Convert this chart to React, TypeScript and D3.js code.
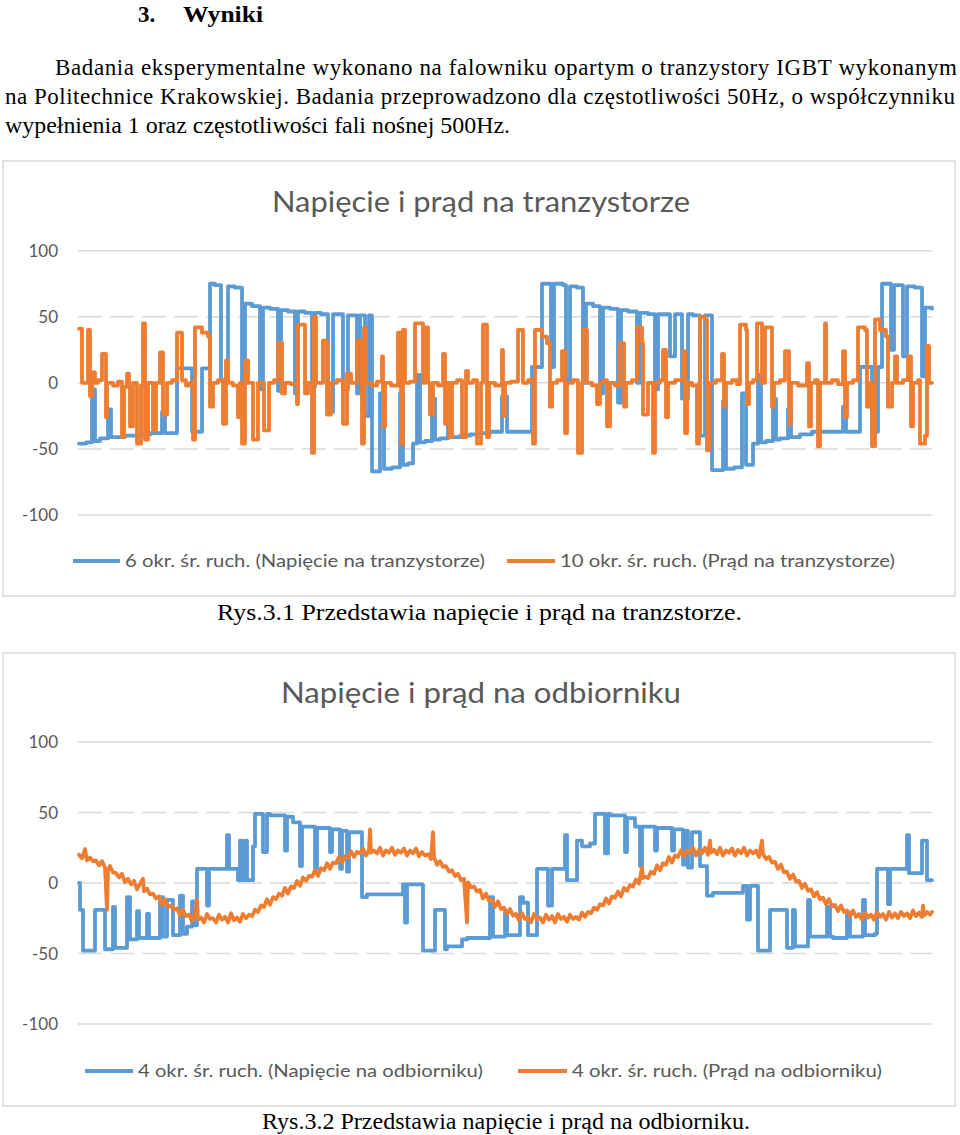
import React from 'react';
import * as d3 from 'd3';

// ---------- data ----------
const yTicks: number[] = [100, 50, 0, -50, -100];

const headingNumber = '3.';
const headingText = 'Wyniki';
const paragraphLines: string[] = [
  'Badania eksperymentalne wykonano na falowniku opartym o tranzystory IGBT wykonanym',
  'na Politechnice Krakowskiej. Badania przeprowadzono dla częstotliwości 50Hz, o współczynniku',
  'wypełnienia 1 oraz częstotliwości fali nośnej 500Hz.',
];
const caption1 = 'Rys.3.1 Przedstawia napięcie i prąd na tranzstorze.';
const caption2 = 'Rys.3.2 Przedstawia napięcie i prąd na odbiorniku.';

const chart1Title = 'Napięcie i prąd na tranzystorze';
const chart2Title = 'Napięcie i prąd na odbiorniku';
const chart1Legend: string[] = [
  '6 okr. śr. ruch. (Napięcie na tranzystorze)',
  '10 okr. śr. ruch. (Prąd na tranzystorze)',
];
const chart2Legend: string[] = [
  '4 okr. śr. ruch. (Napięcie na odbiorniku)',
  '4 okr. śr. ruch. (Prąd na odbiorniku)',
];

const sampleCount = 853;

// [sample, value] — value held until next sample (step)
const trVoltage: [number, number][] = [
  [0, -46], [7, -45], [13, -5], [16, -44], [21, -42], [29, -20], [32, -41], [46, -40], [61, -39], [71, -38],
  [83, -22], [86, -38], [98, 11], [113, -37], [123, 11], [131, 75], [136, 74], [142, 2], [149, 73], [156, 72],
  [163, 0], [166, 60], [173, 58], [181, -5], [184, 57], [191, 56], [199, -6], [202, 55], [209, 54], [216, -8],
  [219, 54], [226, 53], [233, -3], [236, 53], [242, 52], [249, -22], [254, 52], [264, -5], [269, 51], [278, -8],
  [281, 51], [286, -25], [290, 51], [293, -67], [301, -8], [305, -65], [313, -64], [321, -8], [324, -62], [329, -61],
  [334, -46], [338, 6], [341, -45], [346, -44], [353, -12], [356, -43], [361, -42], [369, -20], [372, -41], [381, -40],
  [391, -39], [401, -38], [411, -37], [423, -10], [428, -37], [453, 12], [463, 75], [472, 12], [475, 75], [484, 74],
  [487, 2], [491, 73], [498, 72], [504, 0], [507, 60], [514, 58], [521, -8], [524, 57], [531, 56], [539, -15],
  [542, 55], [549, 54], [558, 0], [561, 53], [569, 52], [576, -5], [579, 52], [591, 20], [596, 52], [603, -12],
  [609, 52], [614, 51], [621, -40], [626, 51], [633, -66], [644, -14], [647, -65], [655, -64], [663, -8], [667, -62],
  [674, -46], [679, 6], [682, -45], [687, -44], [694, -12], [697, -43], [701, -42], [709, -20], [712, -41], [721, -39],
  [733, -37], [764, -18], [767, -37], [781, 12], [793, -37], [799, 12], [803, 75], [812, 25], [815, 74], [824, 20],
  [828, 73], [836, 72], [843, 5], [846, 57], [853, 56],
];

const trCurrent: [number, number][] = [
  [0, 41], [3, 0], [9, 40], [11, -10], [13, 8], [16, 0], [19, 2], [23, 22], [27, -26], [28, 0],
  [34, -2], [39, 1], [43, -41], [45, -3], [48, 7], [50, -3], [51, -33], [54, 0], [58, -46], [62, -2],
  [64, 45], [66, -43], [69, 0], [74, -36], [77, 0], [81, 23], [84, -24], [88, 0], [93, 2], [98, 38],
  [103, 2], [107, -2], [111, 0], [114, -43], [116, 42], [123, 38], [129, 35], [131, -18], [134, 0], [139, 2],
  [144, -31], [147, 17], [149, 0], [154, -2], [159, -26], [161, 0], [163, -46], [166, 17], [169, 0], [174, -43],
  [179, 0], [185, -36], [190, 0], [195, 2], [199, 30], [203, -8], [206, 0], [212, -1], [218, -16], [219, 44],
  [226, -8], [229, 0], [233, -53], [235, 50], [237, 0], [244, 32], [248, -24], [252, 0], [258, 2], [264, -31],
  [268, 7], [272, 0], [278, 32], [283, -46], [285, 42], [287, 0], [293, -2], [298, 1], [303, 20], [304, -33],
  [306, 0], [312, -2], [319, 38], [322, -46], [324, 40], [326, 0], [331, 1], [336, 45], [344, 0], [346, 42],
  [349, 0], [351, -24], [354, 0], [359, -2], [364, 22], [366, -31], [368, 0], [371, -41], [373, 0], [378, 2],
  [383, -41], [387, 9], [389, 0], [394, 2], [398, -46], [402, 0], [404, 44], [408, -41], [410, 0], [416, -2],
  [423, 25], [424, -25], [426, 0], [432, 1], [439, 40], [444, 0], [449, 2], [454, -46], [456, 40], [463, 35],
  [468, 30], [471, -18], [473, 0], [478, 2], [483, 24], [486, -38], [488, 0], [494, 2], [499, -53], [503, 0],
  [504, 40], [508, 0], [513, -2], [518, -16], [521, 0], [525, 2], [528, -33], [531, 0], [536, -2], [541, 30],
  [545, -18], [547, 0], [553, 2], [558, 42], [563, 30], [564, -24], [569, 0], [574, -53], [576, 0], [581, 2],
  [584, 25], [587, -26], [589, 0], [596, 2], [604, 24], [606, -38], [608, 0], [613, -2], [618, -46], [620, 0],
  [621, 50], [626, 48], [628, -51], [630, 0], [637, 2], [643, 22], [645, -18], [647, 0], [653, 2], [658, -1],
  [661, 44], [667, 40], [668, -16], [670, 0], [674, 2], [678, 45], [683, 0], [686, 42], [693, -18], [695, 0],
  [701, 2], [706, 24], [710, -31], [712, 0], [719, -2], [728, 15], [730, -33], [732, 0], [736, 2], [739, -48],
  [741, 0], [746, 45], [747, 0], [753, 2], [759, -1], [764, 24], [766, -26], [768, 0], [774, 2], [779, 42],
  [786, 40], [788, -18], [790, 0], [793, -48], [796, 48], [801, 40], [807, 35], [809, -18], [813, 0], [816, 20],
  [818, 0], [824, 2], [829, 20], [832, -33], [834, 0], [839, 2], [841, -46], [846, -40], [848, 28], [850, 0],
  [853, 0],
];

const loadVoltage: [number, number][] = [
  [0, 0], [1, -19], [4, -48], [16, -19], [26, -47], [34, -17], [36, -46], [48, -10], [51, -40], [58, -20],
  [60, -39], [68, -22], [70, -39], [81, -10], [84, -38], [88, -12], [94, -37], [101, -9], [104, -36], [108, -31],
  [113, -13], [116, -30], [118, 10], [128, -16], [130, 10], [148, 34], [150, 10], [159, 2], [161, 30], [163, 2],
  [166, 30], [168, 2], [174, 26], [176, 49], [184, 22], [188, 49], [191, 48], [206, 23], [208, 47], [214, 43],
  [221, 12], [223, 40], [236, 10], [238, 39], [251, 22], [253, 38], [261, 10], [263, 37], [268, 8], [270, 36],
  [283, -10], [288, -8], [324, -1], [326, -28], [328, -1], [344, -48], [356, -19], [366, -47], [368, -45], [383, -40],
  [388, -39], [411, -10], [414, -38], [426, -20], [428, -37], [441, -10], [444, -14], [449, -37], [458, 10], [469, -16],
  [473, 10], [486, 34], [488, 2], [498, 30], [503, 26], [511, 28], [516, 49], [526, 21], [529, 49], [531, 48],
  [546, 22], [548, 46], [556, 40], [561, 12], [563, 40], [576, 23], [578, 39], [593, 23], [595, 38], [604, 13],
  [606, 37], [609, 11], [613, 36], [621, 12], [628, -9], [634, -7], [664, -2], [668, -26], [671, -2], [679, -48],
  [691, -19], [708, -46], [714, -19], [716, -45], [729, -12], [731, -38], [748, -17], [751, -38], [754, -39], [768, -21],
  [771, -38], [784, -12], [786, -37], [796, -36], [798, 10], [809, -15], [811, 10], [828, 34], [830, 7], [843, 30],
  [848, 2], [853, 2],
];

const loadCurrent: [number, number][] = [
  [0, 20], [3, 17.5], [6, 24], [8, 16], [11, 18], [14, 15.5], [17, 16], [20, 12.5], [23, 15.5], [26, 11],
  [28, -19], [29, 9], [31, 12], [34, 7.5], [37, 7], [40, 4], [43, 6.5], [46, 0.5], [49, 3], [52, -1],
  [55, 1.5], [58, -4.5], [61, -0.5], [64, 3], [65, -6], [68, -4], [71, -8], [74, -7.5], [77, -11], [80, -9.5],
  [83, -15.5], [86, -11.5], [89, -17], [92, -16], [95, -19], [98, -18], [101, -23], [104, -19], [107, -23.5], [110, -22.5],
  [113, -27], [116, -21.5], [118, -12], [119, -26], [122, -24.5], [125, -28], [128, -22], [131, -25.5], [134, -25], [137, -28],
  [140, -22.5], [143, -26], [146, -24], [149, -28], [152, -21.5], [155, -26.5], [158, -24.5], [161, -27.5], [164, -22], [167, -25],
  [170, -22.5], [173, -23.5], [176, -19], [179, -20.5], [182, -16], [185, -17], [188, -11.5], [191, -15.5], [194, -10], [197, -11.5],
  [200, -7.5], [203, -9], [206, -3.5], [209, -7.5], [212, -2.5], [215, -3.5], [218, 1.5], [221, -2], [224, 4], [227, 1.5],
  [230, 5], [233, 4.5], [236, 9], [239, 5], [242, 10.5], [245, 9], [248, 14], [251, 10], [254, 14.5], [257, 14],
  [260, 18.5], [263, 14.5], [266, 19], [269, 18], [272, 22.5], [275, 18.5], [278, 22], [281, 21], [284, 24.5], [287, 19.5],
  [290, 23], [291, 38], [292, 21.5], [295, 23], [298, 21], [301, 25], [304, 19.5], [307, 23], [310, 21.5], [313, 25],
  [316, 20], [319, 23], [322, 21.5], [325, 24.5], [328, 19.5], [331, 23], [334, 21], [337, 24.5], [340, 19], [343, 22],
  [346, 19.5], [349, 20.5], [352, 17], [354, 36], [355, 18.5], [358, 13], [361, 15.5], [364, 11.5], [367, 12], [370, 8],
  [373, 9], [376, 5], [379, 6.5], [382, 2], [385, 3], [388, -28], [389, 0.5], [392, -3], [395, -2.5], [398, -6],
  [401, -5], [404, -11], [407, -7.5], [410, -12.5], [413, -12], [416, -17], [419, -13], [422, -18.5], [425, -17.5], [428, -22],
  [431, -18.5], [434, -23], [437, -22], [440, -26.5], [443, -21.5], [446, -25.5], [449, -24.5], [452, -28], [455, -22], [458, -25.5],
  [461, -24.5], [464, -28], [467, -22.5], [470, -26], [473, -23.5], [476, -28], [479, -22], [482, -25.5], [485, -24], [488, -27.5],
  [491, -22.5], [494, -25.5], [497, -24], [500, -26], [503, -21], [506, -24], [509, -20.5], [512, -21.5], [515, -17.5], [518, -19],
  [521, -15], [524, -16], [527, -11], [530, -14.5], [533, -9.5], [536, -10.5], [539, -6], [542, -9.5], [545, -3.5], [548, -5.5],
  [551, -1.5], [554, -2.5], [557, 2.5], [560, -0.5], [563, 11], [564, 3.5], [566, 4.5], [569, 3.5], [572, 8], [575, 6.5],
  [578, 12.5], [581, 9], [584, 14], [587, 13], [590, 18.5], [593, 14.5], [596, 19.5], [599, 18.5], [602, 23], [605, 19],
  [608, 23], [611, 21.5], [614, 25], [617, 19.5], [620, 23.5], [623, 21], [626, 25], [629, 20], [631, 30], [632, 21.5],
  [635, 23.5], [638, 20.5], [641, 25], [644, 19.5], [647, 23], [650, 21.5], [653, 24.5], [656, 19.5], [659, 23.5], [662, 21],
  [665, 25], [668, 19.5], [671, 23], [674, 21], [677, 23], [680, 18.5], [683, 30], [684, 20.5], [687, 17], [690, 18.5],
  [693, 14.5], [696, 15], [699, 10], [702, 13], [705, 7.5], [708, 8], [711, 3], [714, 6], [717, 1], [720, 1.5],
  [723, -3.5], [726, -0.5], [729, -5.5], [732, -4.5], [735, -9.5], [738, -6.5], [741, -11.5], [744, -10.5], [747, -15], [750, -11.5],
  [753, -16.5], [756, -15.5], [759, -20], [762, -16], [765, -20.5], [768, -19.5], [771, -23.5], [774, -19.5], [777, -24], [780, -22],
  [783, -26], [786, -21], [789, -24.5], [792, -22.5], [795, -26], [798, -20.5], [801, -24], [804, -22], [807, -26], [810, -20.5],
  [813, -24.5], [816, -21.5], [819, -25], [822, -20.5], [825, -23.5], [828, -21.5], [831, -25], [834, -19.5], [837, -23.5], [840, -21],
  [843, -24], [844, -16], [845, -23], [848, -20.5], [851, -22.5], [853, -20.5],
];

// ---------- styles ----------
const BLUE = '#5B9BD5';
const ORANGE = '#ED7D31';
const GRID = '#d9d9d9';
const TEXT_GREY = '#595959';
const SANS = 'Lato, "Open Sans", sans-serif';
const SERIF = '"Liberation Serif", "Times New Roman", serif';

type Series = { data: [number, number][]; color: string; step: boolean };
type LegendItem = { label: string; color: string; x1: number; x2: number; tx: number; tw: number };

interface ChartProps {
  box: { x: number; y: number; w: number; h: number };
  title: string;
  titleY: number;
  titleWidth: number;
  yRange: [number, number];
  series: Series[];
  legend: LegendItem[];
  legendY: number;
}

const Chart: React.FC<ChartProps> = ({ box, title, titleY, titleWidth, yRange, series, legend, legendY }) => {
  const x = d3.scaleLinear().domain([0, sampleCount]).range([79, 932]);
  const y = d3.scaleLinear().domain([-100, 100]).range(yRange);
  const gridX0 = 78;
  const gridX1 = 932;
  return (
    <g>
      <rect x={box.x} y={box.y} width={box.w} height={box.h} fill="#fff" stroke={GRID} strokeWidth={1.5} />
      <text x={481} y={titleY} textAnchor="middle" fontFamily={SANS} fontSize={29} fill={TEXT_GREY}
        textLength={titleWidth} lengthAdjust="spacingAndGlyphs">{title}</text>
      {yTicks.map((t) => (
        <g key={t}>
          <line x1={gridX0} x2={gridX1} y1={y(t)} y2={y(t)} stroke={GRID} strokeWidth={1.5}
            strokeDasharray={Math.abs(t) === 100 ? undefined : '24 8'} />
          <text x={58} y={y(t) + 6} textAnchor="end" fontFamily={SANS} fontSize={17} fill={TEXT_GREY}>{t}</text>
        </g>
      ))}
      {series.map((s, i) => {
        const line = d3
          .line<[number, number]>()
          .x((d) => x(d[0]))
          .y((d) => y(d[1]))
          .curve(s.step ? d3.curveStepAfter : d3.curveLinear);
        return (
          <path key={i} d={line(s.data) || ''} fill="none" stroke={s.color} strokeWidth={3.8}
            strokeLinejoin="round" strokeLinecap="round" />
        );
      })}
      {legend.map((l, i) => (
        <g key={i}>
          <line x1={l.x1} x2={l.x2} y1={legendY} y2={legendY} stroke={l.color} strokeWidth={4} />
          <text x={l.tx} y={legendY + 6} fontFamily={SANS} fontSize={17} fill={TEXT_GREY}
            textLength={l.tw} lengthAdjust="spacingAndGlyphs">{l.label}</text>
        </g>
      ))}
    </g>
  );
};

export default function App() {
  return (
    <svg width={960} height={1135} viewBox="0 0 960 1135"
      style={{ position: 'absolute', left: 0, top: 0, display: 'block', background: '#fff' }}>
      <rect x={0} y={0} width={960} height={1135} fill="#fff" />
      {/* heading */}
      <text x={138} y={22} fontFamily={SERIF} fontWeight="bold" fontSize={23} fill="#000">{headingNumber}</text>
      <text x={183} y={22} fontFamily={SERIF} fontWeight="bold" fontSize={23} fill="#000"
        textLength={80} lengthAdjust="spacingAndGlyphs">{headingText}</text>
      {/* paragraph */}
      <text x={55} y={75} fontFamily={SERIF} fontSize={23} fill="#000" textLength={902} lengthAdjust="spacing">{paragraphLines[0]}</text>
      <text x={5} y={104} fontFamily={SERIF} fontSize={23} fill="#000" textLength={950} lengthAdjust="spacing">{paragraphLines[1]}</text>
      <text x={5} y={133} fontFamily={SERIF} fontSize={24} fill="#000" textLength={505} lengthAdjust="spacingAndGlyphs">{paragraphLines[2]}</text>

      <Chart
        box={{ x: 3, y: 161, w: 952, h: 435 }}
        title={chart1Title}
        titleY={212}
        titleWidth={418}
        yRange={[515, 250.7]}
        series={[
          { data: trVoltage, color: BLUE, step: true },
          { data: trCurrent, color: ORANGE, step: true },
        ]}
        legend={[
          { label: chart1Legend[0], color: BLUE, x1: 73, x2: 120, tx: 125, tw: 360 },
          { label: chart1Legend[1], color: ORANGE, x1: 507, x2: 555, tx: 560, tw: 335 },
        ]}
        legendY={561}
      />
      <text x={217} y={620} fontFamily={SERIF} fontSize={24} fill="#000" textLength={525} lengthAdjust="spacingAndGlyphs">{caption1}</text>

      <Chart
        box={{ x: 3, y: 653, w: 952, h: 453 }}
        title={chart2Title}
        titleY={703}
        titleWidth={400}
        yRange={[1024, 742]}
        series={[
          { data: loadVoltage, color: BLUE, step: true },
          { data: loadCurrent, color: ORANGE, step: false },
        ]}
        legend={[
          { label: chart2Legend[0], color: BLUE, x1: 85, x2: 133, tx: 138, tw: 345 },
          { label: chart2Legend[1], color: ORANGE, x1: 518, x2: 567, tx: 572, tw: 310 },
        ]}
        legendY={1071}
      />
      <text x={262} y={1129} fontFamily={SERIF} fontSize={24} fill="#000" textLength={488} lengthAdjust="spacingAndGlyphs">{caption2}</text>
    </svg>
  );
}
